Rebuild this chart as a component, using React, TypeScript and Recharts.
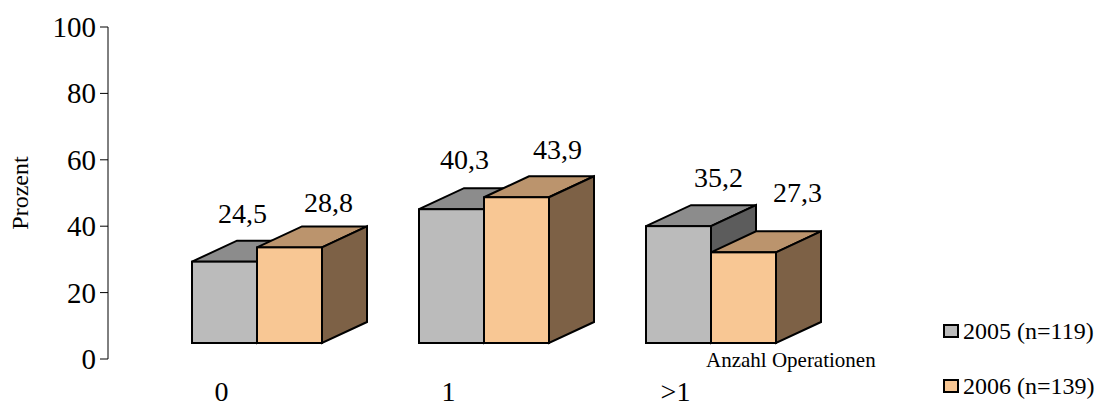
import React from 'react';
import { BarChart, Bar, XAxis, YAxis, LabelList, Label } from 'recharts';

const categories = ['0', '1', '>1'];
const values2005 = [24.5, 40.3, 35.2];
const values2006 = [28.8, 43.9, 27.3];
const yTicks = [0, 20, 40, 60, 80, 100];
const seriesNames = ['2005 (n=119)', '2006 (n=139)'];

const data = categories.map((cat, i) => ({ cat, a: values2005[i], b: values2006[i] }));

const FONT = '"Liberation Serif", "Times New Roman", serif';

// 3D projection of each box: depth offset and lift of the front face
const DX = 45;
const DY = 21;
const LIFT = 16;

const palette: Record<string, { front: string; top: string; side: string }> = {
  a: { front: '#bbbbbb', top: '#8c8c8c', side: '#5c5c5c' },
  b: { front: '#f8c794', top: '#bb946d', side: '#7d6146' },
};

// per-label nudge [dx from front centre, gap above back edge]
const labelNudge: Record<string, number[][]> = {
  a: [[18, 18], [13, 19], [40, 18]],
  b: [[39, 14], [41, 17], [54, 29]],
};

const fmt = (v: number) => v.toFixed(1).replace('.', ',');

function boxShape(key: string) {
  const c = palette[key];
  return (props: any) => {
    const { x, y, width: w, height: h } = props;
    const top = y - LIFT;
    const bot = y + h - LIFT;
    return (
      <g stroke="#000" strokeWidth={2} strokeLinejoin="miter">
        <polygon points={`${x},${top} ${x + DX},${top - DY} ${x + w + DX},${top - DY} ${x + w},${top}`} fill={c.top} />
        <polygon points={`${x + w},${top} ${x + w + DX},${top - DY} ${x + w + DX},${bot - DY} ${x + w},${bot}`} fill={c.side} />
        <rect x={x} y={top} width={w} height={h} fill={c.front} />
      </g>
    );
  };
}

function valueLabel(key: string) {
  return (props: any) => {
    const vb = props.viewBox || props;
    const { x, y, width: w } = vb;
    const i = props.index ?? 0;
    const [nx, ny] = labelNudge[key][i] || [0, 16];
    return (
      <text x={x + w / 2 + nx} y={y - LIFT - DY - ny} textAnchor="middle" fontFamily={FONT} fontSize={28} fill="#000">
        {fmt(Number(props.value))}
      </text>
    );
  };
}

const CatTick = (props: any) => {
  const { x, y, payload } = props;
  return (
    <text x={x - 35} y={y} dy={34} textAnchor="middle" fontFamily={FONT} fontSize={28} fill="#000">
      {payload.value}
    </text>
  );
};

const ValueTick = (props: any) => {
  const { x, y, payload } = props;
  return (
    <text x={x} y={y} dy={10} textAnchor="end" fontFamily={FONT} fontSize={29} fill="#000">
      {payload.value}
    </text>
  );
};

export default function App() {
  return (
    <div style={{ position: 'absolute', left: 0, top: 0, width: 1106, height: 403, background: '#fff', fontFamily: FONT }}>
      <BarChart
        width={1106}
        height={403}
        data={data}
        margin={{ top: 27, right: 282, bottom: 0, left: 0 }}
        barSize={65}
        barGap={0}
      >
        <XAxis
          dataKey="cat"
          axisLine={false}
          tickLine={false}
          height={44}
          interval={0}
          padding={{ left: 35, right: 0 }}
          tick={<CatTick />}
        >
          <Label
            content={({ viewBox }: any) => (
              <text x={viewBox.x + viewBox.width - 118} y={viewBox.y + 8} fontFamily={FONT} fontSize={21} fill="#000">
                Anzahl Operationen
              </text>
            )}
          />
        </XAxis>
        <YAxis
          width={108}
          domain={[0, 100]}
          ticks={yTicks}
          interval={0}
          axisLine={{ stroke: '#000', strokeWidth: 1 }}
          tickLine={{ stroke: '#000', strokeWidth: 1 }}
          tickSize={8}
          tickMargin={4}
          tick={<ValueTick />}
        >
          <Label
            content={({ viewBox }: any) => {
              const cx = 28;
              const cy = viewBox.y + viewBox.height / 2;
              return (
                <text x={cx} y={cy} transform={`rotate(-90, ${cx}, ${cy})`} textAnchor="middle" fontFamily={FONT} fontSize={24} fill="#000">
                  Prozent
                </text>
              );
            }}
          />
        </YAxis>
        <Bar dataKey="a" name={seriesNames[0]} shape={boxShape('a')} isAnimationActive={false}>
          <LabelList dataKey="a" content={valueLabel('a')} />
        </Bar>
        <Bar dataKey="b" name={seriesNames[1]} shape={boxShape('b')} isAnimationActive={false}>
          <LabelList dataKey="b" content={valueLabel('b')} />
        </Bar>
      </BarChart>
      {seriesNames.map((name, i) => (
        <div
          key={name}
          style={{ position: 'absolute', left: 943, top: 317 + i * 55, height: 28, display: 'flex', alignItems: 'center', fontSize: 24, color: '#000', whiteSpace: 'nowrap' }}
        >
          <span style={{ display: 'inline-block', width: 12, height: 10, border: '2px solid #000', background: palette[i === 0 ? 'a' : 'b'].front, marginRight: 4 }} />
          {name}
        </div>
      ))}
    </div>
  );
}
